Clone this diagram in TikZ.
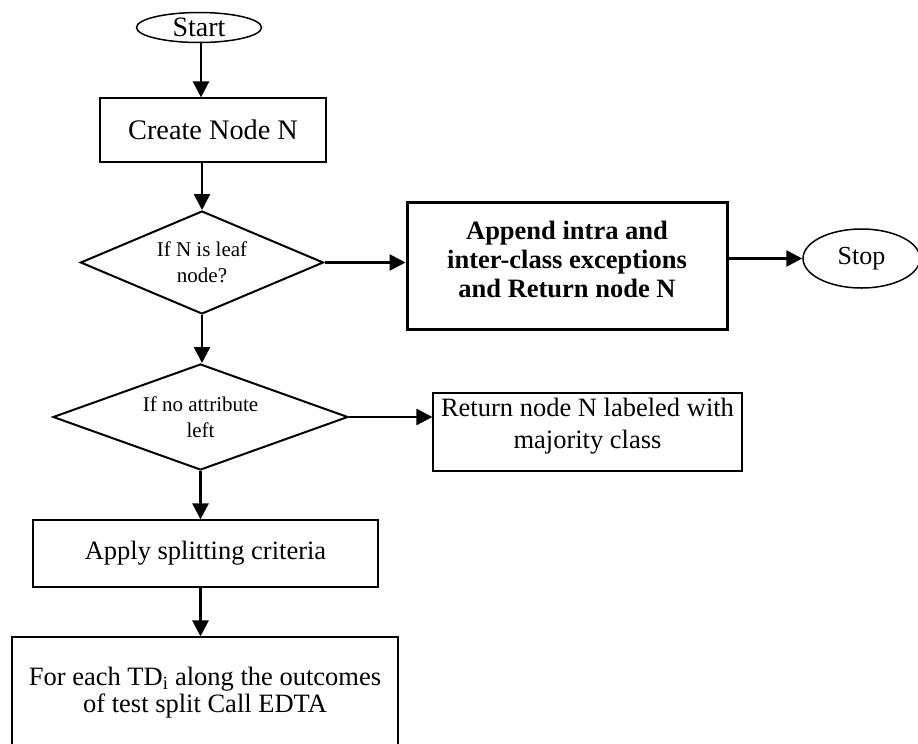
\documentclass[tikz,border=0pt]{standalone}
\usepackage{fontspec}
\setmainfont{Liberation Serif}
\usetikzlibrary{shapes.geometric,arrows.meta}
\begin{document}
\begin{tikzpicture}[x=1pt,y=-1pt,
  thinbox/.style={draw, line width=1.2pt, inner sep=0pt, align=center, font=\fontsize{26.5}{29}\selectfont},
  boldbox/.style={draw, line width=3pt, inner sep=0pt},
  decision/.style={draw, diamond, line width=2pt, inner sep=0pt, align=center, font=\fontsize{21}{26}\selectfont},
  terminal/.style={draw, ellipse, line width=1.5pt, inner sep=0pt, font=\fontsize{26}{29}\selectfont},
  txt/.style={inner sep=0pt, align=center},
  flow/.style={line width=2.6pt, -{Triangle[length=16pt,width=16pt]}}
]
\useasboundingbox (0,0) rectangle (918,744);
\node[terminal, minimum width=125pt, minimum height=30pt, font=\fontsize{28}{30}\selectfont] (start) at (199,27.5) {Start};
\node[thinbox, minimum width=226pt, minimum height=64pt, font=\fontsize{28.3}{30}\selectfont] (create) at (213,130) {Create Node N};
\node[decision, shape aspect=2.36, minimum width=243pt, minimum height=103pt] (d1) at (202,262.5) {If N is leaf\\node?};
\node[boldbox, minimum width=320pt, minimum height=127pt] (app) at (567,265.5) {};
\node[txt, font=\fontsize{26.5}{29}\selectfont\bfseries] (appT) at (567,259) {Append intra and\\inter-class exceptions\\and Return node N};
\node[terminal, minimum width=117pt, minimum height=59pt] (stop) at (861.5,258.5) {Stop};
\node[decision, shape aspect=2.78, minimum width=295pt, minimum height=106pt] (d2) at (200.5,417) {If no attribute\\left};
\node[thinbox, minimum width=309pt, minimum height=78pt] (ret) at (587.5,432) {};
\node[txt, font=\fontsize{26.5}{32}\selectfont] (retT) at (587.5,426) {Return node N labeled with\\majority class};
\node[thinbox, minimum width=345pt, minimum height=67pt] (apply) at (205.5,553.5) {Apply splitting criteria};
\node[thinbox, minimum width=386pt, minimum height=115pt] (each) at (205,694.5) {};
\node[txt, font=\fontsize{26.5}{27}\selectfont] (eachT) at (205,693) {For each TD\textsubscript{i} along the outcomes\\of test split Call EDTA};
\coordinate (sx) at (201,0);
\draw[flow] (start.south -| sx) -- (create.north -| sx);
\draw[flow] (create.south -| d1.north) -- (d1.north);
\draw[flow] (d1.east) -- (d1.east -| app.west);
\draw[flow] (stop.west -| app.east) -- (stop.west);
\draw[flow] (d1.south) -- (d1.south |- d2.north);
\draw[flow] (d2.east) -- (d2.east -| ret.west);
\draw[flow] (d2.south) -- (d2.south |- apply.north);
\draw[flow] (apply.south -| d2.south) -- (d2.south |- each.north);
\end{tikzpicture}
\end{document}
